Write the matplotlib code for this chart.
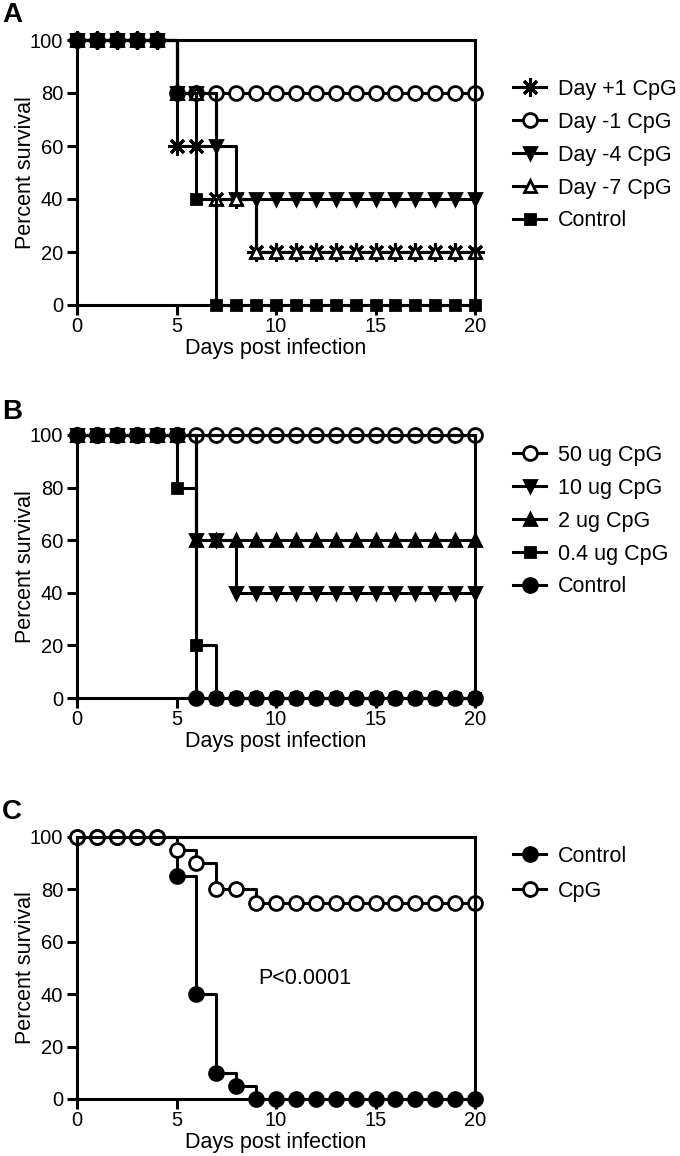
import matplotlib
matplotlib.use("Agg")
import matplotlib.pyplot as plt

plt.rcParams['font.family'] = ['Liberation Sans', 'DejaVu Sans']

days = list(range(21))

# Panel A
a_labels = ["Day +1 CpG", "Day -1 CpG", "Day -4 CpG", "Day -7 CpG", "Control"]
a_day_p1 = [100]*5 + [60, 60, 40, 40] + [20]*12
a_day_m1 = [100]*5 + [80]*16
a_day_m4 = [100]*5 + [80, 80, 60] + [40]*13
a_day_m7 = [100]*5 + [80, 80, 40, 40] + [20]*12
a_control = [100]*5 + [80, 40] + [0]*14

# Panel B
b_labels = ["50 ug CpG", "10 ug CpG", "2 ug CpG", "0.4 ug CpG", "Control"]
b_50 = [100]*21
b_10 = [100]*6 + [60, 60] + [40]*13
b_2 = [100]*6 + [60]*15
b_04 = [100]*5 + [80, 20] + [0]*14
b_control = [100]*6 + [0]*15

# Panel C
c_labels = ["Control", "CpG"]
c_control = [100]*5 + [85, 40, 10, 5] + [0]*12
c_cpg = [100]*5 + [95, 90, 80, 80] + [75]*12

xticks = [0, 5, 10, 15, 20]
yticks = [0, 20, 40, 60, 80, 100]

FS_TICK = 14.5
FS_LAB = 15.5
LW = 2.2

fig = plt.figure(figsize=(6.8, 11.56), dpi=100)

def make_axes(top_px, bottom_px):
    left = 77/680
    width = (475-77)/680
    bottom = 1 - bottom_px/1156
    height = (bottom_px - top_px)/1156
    ax = fig.add_axes([left, bottom, width, height])
    ax.set_xlim(0, 20)
    ax.set_ylim(0, 100)
    ax.set_xticks(xticks)
    ax.set_yticks(yticks)
    for s in ax.spines.values():
        s.set_linewidth(LW)
    ax.tick_params(direction='out', length=7, width=LW, labelsize=FS_TICK)
    ax.tick_params(axis='x', pad=1.5)
    ax.tick_params(axis='y', pad=3)
    ax.set_xlabel("Days post infection", fontsize=FS_LAB)
    ax.set_ylabel("Percent survival", fontsize=FS_LAB)
    ax.xaxis.set_label_coords(0.5, -0.165)
    ax.xaxis.label.set_va('center')
    ax.yaxis.set_label_coords(-0.13, 0.5)
    ax.yaxis.label.set_va('center')
    return ax

def series(ax, y, marker, fill, label, ms=10, mew=2):
    ax.plot(days, y, drawstyle='steps-post', color='black', lw=LW,
            marker=marker, ms=ms, mfc=fill, mec='black', mew=mew,
            label=label, clip_on=False)

def legend(ax, top_px, spacing=0.55):
    ax.legend(loc='upper left', bbox_to_anchor=(513/680, 1 - top_px/1156),
              bbox_transform=fig.transFigure, frameon=False, fontsize=FS_LAB,
              borderpad=0, borderaxespad=0, handlelength=1.55,
              handletextpad=0.55, labelspacing=spacing, numpoints=1)

asterisk = (8, 2, 0)
TRI = 8
SQ = 7.5

# ---- A
axA = make_axes(40, 305)
series(axA, a_day_p1, asterisk, 'black', a_labels[0], ms=13, mew=2.2)
series(axA, a_day_m1, 'o', 'white', a_labels[1])
series(axA, a_day_m4, 'v', 'black', a_labels[2], ms=TRI)
series(axA, a_day_m7, '^', 'white', a_labels[3], ms=TRI)
series(axA, a_control, 's', 'black', a_labels[4], ms=SQ)
legend(axA, 79)
fig.text(2/680, 1 - 15/1156, "A", fontsize=20, fontweight='bold', va='center', ha='left')

# ---- B
axB = make_axes(435, 698)
series(axB, b_50, 'o', 'white', b_labels[0])
series(axB, b_10, 'v', 'black', b_labels[1], ms=TRI)
series(axB, b_2, '^', 'black', b_labels[2], ms=TRI)
series(axB, b_04, 's', 'black', b_labels[3], ms=SQ)
series(axB, b_control, 'o', 'black', b_labels[4])
legend(axB, 445)
fig.text(2/680, 1 - 412/1156, "B", fontsize=20, fontweight='bold', va='center', ha='left')

# ---- C
axC = make_axes(837, 1099)
series(axC, c_control, 'o', 'black', c_labels[0])
series(axC, c_cpg, 'o', 'white', c_labels[1])
legend(axC, 846, spacing=0.65)
axC.text(9.1, 46, "P<0.0001", fontsize=FS_LAB, ha='left', va='center')
fig.text(2/680, 1 - 812/1156, "C", fontsize=20, fontweight='bold', va='center', ha='left')

fig.savefig("out.png", dpi=100)
